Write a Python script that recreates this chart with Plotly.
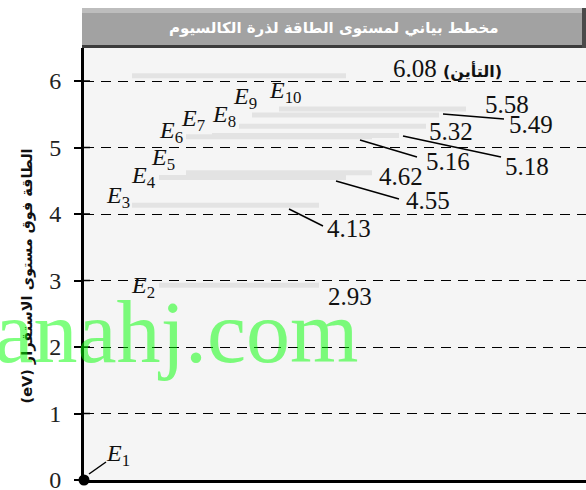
import plotly.graph_objects as go

# ---- data ----
level_names = ["E2", "E3", "E4", "E5", "E6", "E7", "E8", "E9", "E10"]
level_energies = [2.93, 4.13, 4.55, 4.62, 5.16, 5.18, 5.32, 5.49, 5.58]
ionization_energy = 6.08
ionization_label = "(التأين)"
y_ticks = [0, 1, 2, 3, 4, 5, 6]
title_text = "مخطط بياني لمستوى الطاقة لذرة الكالسيوم"
y_title = "(eV) " + "الطاقة فوق مستوى الاستقرار"
watermark = "manahj.com"

# ---- layout helpers (pixel geometry of the reference) ----
W, H = 586, 490
L, T, B = 84, 48, 10
PX_PER_EV = 66.5
y_top = (H - B - T) / PX_PER_EV

def yv(py):
    return (H - B - py) / PX_PER_EV

def xv(px):
    return px - L

# bar horizontal extents (pixels) for E2..E10 and ionization
bar_x = [(159, 319), (132, 319), (159, 346), (186, 372), (186, 372),
         (212, 399), (239, 426), (252, 439), (279, 466)]
ion_x = (132, 346)
# E-label centres (pixels)
name_pos = [(143, 287), (118, 197), (143, 177), (163, 159), (171, 132),
            (193, 120), (224, 116), (245, 98), (285, 92)]
# value-label centres (pixels)
val_pos = [(350, 296), (349, 228), (428, 200), (401, 176), (448, 161),
           (527, 166), (451, 131), (531, 124), (507, 104)]
# leader lines (pixels) keyed by level index
leaders = {1: ((289, 209), (323, 226)), 2: ((336, 181), (399, 199)),
           4: ((360, 140), (417, 157)), 5: ((403, 136), (501, 157)),
           7: ((443, 114), (504, 119))}

fig = go.Figure()

# energy level bars
bx, by = [], []
for (x0, x1), e in zip(bar_x, level_energies):
    bx += [xv(x0), xv(x1), None]
    by += [e, e, None]
bx += [xv(ion_x[0]), xv(ion_x[1]), None]
by += [ionization_energy, ionization_energy, None]
fig.add_trace(go.Scatter(x=bx, y=by, mode="lines",
                         line=dict(color="#e3e3e3", width=5),
                         hoverinfo="skip", showlegend=False))

# ground state dot
fig.add_trace(go.Scatter(x=[0], y=[0], mode="markers",
                         marker=dict(color="black", size=11),
                         cliponaxis=False, showlegend=False, hoverinfo="skip"))

serif = "Liberation Serif"
ann = []
# E1 label
ann.append(dict(x=xv(118), y=yv(455), text="<i>E</i><sub>1</sub>", showarrow=False,
                font=dict(family=serif, size=24, color="#111")))
for name, (px, py) in zip(level_names, name_pos):
    ann.append(dict(x=xv(px), y=yv(py), text=f"<i>E</i><sub>{name[1:]}</sub>",
                    showarrow=False, font=dict(family=serif, size=24, color="#111")))
for e, (px, py) in zip(level_energies, val_pos):
    ann.append(dict(x=xv(px), y=yv(py), text=f"{e:.2f}", showarrow=False,
                    font=dict(family=serif, size=25, color="#111")))
ann.append(dict(x=xv(447), y=yv(68),
                text=f"{ionization_energy:.2f} <span style='font-family:DejaVu Sans;font-size:16px;font-weight:bold'>{ionization_label}</span>",
                showarrow=False, font=dict(family=serif, size=25, color="#111")))

# y-axis title
ann.append(dict(xref="paper", yref="y", x=(16 - L) / (W - L), y=yv(276),
                text=f"<b>{y_title}</b>", textangle=-90, showarrow=False,
                font=dict(family="DejaVu Sans", size=14.5, color="#111")))

# banner title
ann.append(dict(xref="paper", yref="paper", x=(334 - L) / (W - L),
                y=(H - B - 17) / (H - B - T),
                text=f"<b>{title_text}</b>", showarrow=False,
                font=dict(family="DejaVu Sans", size=15, color="white")))

# watermark
ann.append(dict(xref="x", yref="y", x=xv(361), y=yv(332), xanchor="right",
                text=watermark, showarrow=False,
                font=dict(family=serif, size=88, color="rgba(0,255,0,0.5)")))

shapes = []
for i, ((x0, y0), (x1, y1)) in leaders.items():
    shapes.append(dict(type="line", x0=xv(x0), y0=yv(y0), x1=xv(x1), y1=yv(y1),
                       line=dict(color="black", width=1.5)))
shapes.append(dict(type="line", x0=xv(89), y0=yv(474), x1=xv(106), y1=yv(462),
                   line=dict(color="black", width=1.5)))
# inner half of the crossing tick marks
for t in y_ticks[1:]:
    shapes.append(dict(type="line", x0=0, x1=6, y0=t, y1=t,
                       line=dict(color="black", width=1.5)))

# banner
ph = H - B - T
def py2paper(py):
    return (H - B - py) / ph
def px2paper(px):
    return (px - L) / (W - L)
shapes.append(dict(type="rect", xref="paper", yref="paper", layer="below",
                   x0=px2paper(82), x1=px2paper(586), y0=py2paper(48), y1=py2paper(8),
                   fillcolor="#a2a2a2", line=dict(width=0)))
shapes.append(dict(type="rect", xref="paper", yref="paper", layer="below",
                   x0=px2paper(82), x1=px2paper(586), y0=py2paper(13), y1=py2paper(8),
                   fillcolor="#bdbdbd", line=dict(width=0)))
shapes.append(dict(type="rect", xref="paper", yref="paper", layer="below",
                   x0=px2paper(82), x1=px2paper(586), y0=py2paper(48), y1=py2paper(45),
                   fillcolor="#3c3c3c", line=dict(width=0)))
shapes.append(dict(type="rect", xref="paper", yref="paper", layer="below",
                   x0=px2paper(582), x1=px2paper(586), y0=py2paper(48), y1=py2paper(8),
                   fillcolor="#4a4a4a", line=dict(width=0)))

fig.update_layout(
    width=W, height=H,
    margin=dict(l=L, r=0, t=T, b=B, autoexpand=False),
    paper_bgcolor="white", plot_bgcolor="#f5f5f5",
    annotations=ann, shapes=shapes, showlegend=False,
    xaxis=dict(range=[0, W - L], showgrid=False, zeroline=False,
               showticklabels=False, ticks="", showline=True, automargin=False,
               linecolor="black", linewidth=3, fixedrange=True),
    yaxis=dict(range=[0, y_top], tickvals=y_ticks, ticktext=[str(t) for t in y_ticks],
               showgrid=True, gridcolor="black", gridwidth=1.3, griddash="10px,7px",
               zeroline=False, showline=True, linecolor="black", linewidth=3,
               ticks="outside", ticklen=7, tickwidth=1.5, tickcolor="black",
               ticklabelstandoff=8, ticklabeloverflow="allow", automargin=False,
               tickfont=dict(family=serif, size=24, color="#222"), fixedrange=True),
)

fig.write_html("out.html", config={"displayModeBar": False},
               post_script="document.body.style.margin='0';")
